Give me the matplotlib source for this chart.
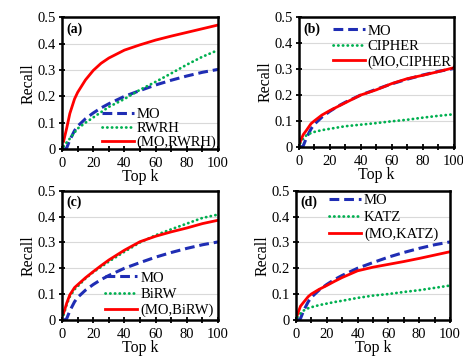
import matplotlib
matplotlib.use("Agg")
import matplotlib.pyplot as plt
from matplotlib.ticker import MultipleLocator

plt.rcParams['font.family'] = ['Liberation Serif', 'DejaVu Serif']

k = [1, 2, 3, 5, 8, 10, 15, 20, 25, 30, 40, 50, 60, 70, 80, 90, 100]

mo = [0.0, 0.0, 0.005, 0.035, 0.07, 0.087, 0.115, 0.137, 0.156, 0.172,
      0.2, 0.222, 0.243, 0.261, 0.277, 0.291, 0.302]

rwrh = [0.01, 0.018, 0.026, 0.04, 0.063, 0.078, 0.1, 0.12, 0.14, 0.16,
        0.19, 0.225, 0.255, 0.287, 0.32, 0.35, 0.375]
mo_rwrh = [0.03, 0.055, 0.08, 0.135, 0.19, 0.215, 0.262, 0.298, 0.325, 0.345,
           0.375, 0.395, 0.413, 0.428, 0.442, 0.456, 0.47]

cipher = [0.015, 0.025, 0.033, 0.045, 0.054, 0.058, 0.065, 0.07, 0.075, 0.08,
          0.086, 0.092, 0.099, 0.105, 0.113, 0.12, 0.126]
mo_cipher = [0.02, 0.035, 0.048, 0.064, 0.09, 0.1, 0.123, 0.14, 0.155, 0.17,
             0.2, 0.22, 0.244, 0.263, 0.276, 0.29, 0.305]

birw = [0.02, 0.04, 0.06, 0.09, 0.118, 0.13, 0.16, 0.185, 0.205, 0.226,
        0.264, 0.3, 0.328, 0.351, 0.373, 0.395, 0.408]
mo_birw = [0.027, 0.045, 0.065, 0.097, 0.125, 0.136, 0.163, 0.187, 0.21, 0.232,
           0.27, 0.303, 0.324, 0.341, 0.356, 0.373, 0.386]

katz = [0.01, 0.018, 0.025, 0.036, 0.045, 0.049, 0.057, 0.063, 0.069, 0.074,
        0.085, 0.094, 0.1, 0.108, 0.115, 0.124, 0.133]
mo_katz = [0.02, 0.037, 0.053, 0.068, 0.09, 0.1, 0.118, 0.133, 0.149, 0.164,
           0.19, 0.204, 0.215, 0.226, 0.238, 0.251, 0.264]

panels = [
    ("(a)", "RWRH", rwrh, mo_rwrh),
    ("(b)", "CIPHER", cipher, mo_cipher),
    ("(c)", "BiRW", birw, mo_birw),
    ("(d)", "KATZ", katz, mo_katz),
]

xticks = [0, 20, 40, 60, 80, 100]
yticks = [0, 0.1, 0.2, 0.3, 0.4, 0.5]
ytick_labels = ["0", "0.1", "0.2", "0.3", "0.4", "0.5"]

BLUE = "#1f2db4"
GREEN = "#00b050"
RED = "#ff0000"

fig = plt.figure(figsize=(4.63, 3.56), dpi=100)

# axes rectangles [left, bottom, width, height] in figure fractions
rects = [
    [0.134, 0.581, 0.337, 0.371],
    [0.645, 0.587, 0.335, 0.365],
    [0.134, 0.1015, 0.337, 0.3625],
    [0.639, 0.1015, 0.333, 0.3625],
]

# legend placement per panel: (loc, anchor, labelspacing)
legend_cfg = [
    ("lower right", (1.0, -0.01), 0.05),
    ("upper left", (0.21, 0.955), 0.15),
    ("lower right", (0.98, 0.01), 0.2),
    ("upper left", (0.205, 0.99), 0.26),
]

for (tag, name, other, combo), rect, (loc, anchor, lsp) in zip(panels, rects, legend_cfg):
    ax = fig.add_axes(rect)
    ax.plot(k, mo, color=BLUE, lw=2.2, ls=(0, (3.2, 1.6)), label="MO")
    ax.plot(k, other, color=GREEN, lw=2.0, ls=(0, (0.1, 1.6)),
            dash_capstyle="round", label=name)
    ax.plot(k, combo, color=RED, lw=2.0, label="(MO," + name + ")")

    ax.set_xlim(0, 100)
    ax.set_ylim(0, 0.5)
    ax.set_xticks(xticks)
    ax.xaxis.set_minor_locator(MultipleLocator(10))
    ax.set_yticks(yticks)
    ax.set_yticklabels(ytick_labels)
    ax.tick_params(axis="both", which="both", direction="inout", length=5,
                   width=1.3, labelsize=10.5, pad=2)
    ax.tick_params(axis="x", which="major", pad=3)
    ax.grid(axis="y", color="#d9d9d9", lw=0.8)
    ax.set_axisbelow(True)
    for s in ax.spines.values():
        s.set_linewidth(1.8)

    ax.set_xlabel("Top k", fontsize=11.5, labelpad=-0.5)
    ax.set_ylabel("Recall", fontsize=11.5, labelpad=0.5)
    ax.text(0.03, 0.96, tag, transform=ax.transAxes, fontsize=10,
            fontweight="bold", va="top", ha="left")

    ax.legend(loc=loc, bbox_to_anchor=anchor, frameon=False,
              fontsize=10.5, handlelength=2.2, handletextpad=0.2,
              labelspacing=lsp, borderpad=0.1, borderaxespad=0)

fig.savefig("out.png", dpi=100)
